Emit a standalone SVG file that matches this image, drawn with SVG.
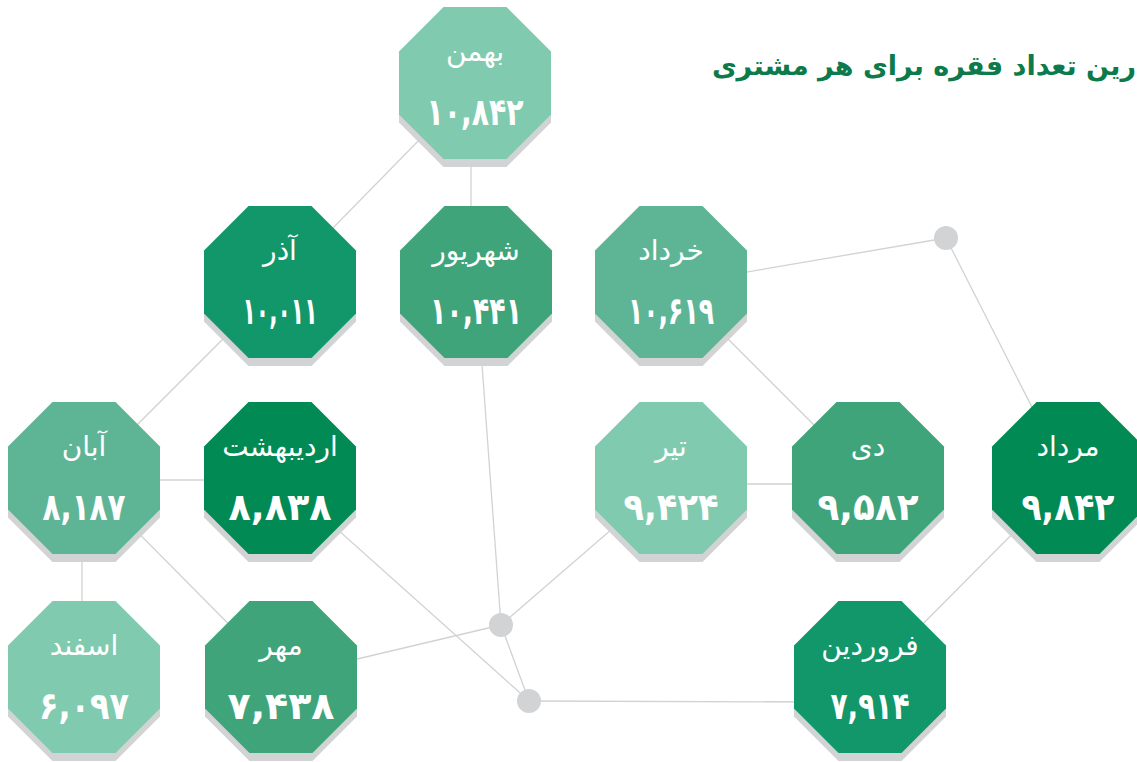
<svg xmlns="http://www.w3.org/2000/svg" xmlns:xlink="http://www.w3.org/1999/xlink" width="1137" height="762" viewBox="0 0 1137 762">
<style>
.lbl{font-family:"DejaVu Sans",sans-serif;font-size:28px;fill:#fff;text-anchor:middle}
.num{font-family:"DejaVu Sans",sans-serif;font-size:38px;font-weight:bold;fill:#fff;text-anchor:middle}
.title{font-family:"DejaVu Sans",sans-serif;font-size:27px;font-weight:bold;fill:#0C7A4A}
.conn line{stroke:#D2D2D2;stroke-width:1.3}
.dot{fill:#D1D3D4}
.sh{fill:#D1D3D4}
.c1{fill:#80CBAF}.c2{fill:#5EB596}.c3{fill:#40A47B}.c4{fill:#12976A}.c5{fill:#018A54}
</style>
<defs>
<polygon id="oct" points="-31.5,-76 31.5,-76 76,-31.5 76,31.5 31.5,76 -31.5,76 -76,31.5 -76,-31.5"/>
</defs>
<rect width="1137" height="762" fill="#fff"/>
<text class="title" x="1136" y="75" direction="rtl" text-anchor="start">رین تعداد فقره برای هر مشتری</text>
<g class="conn">
<line x1="475" y1="83" x2="280" y2="282"/>
<line x1="471" y1="100" x2="471" y2="282"/>
<line x1="280" y1="282" x2="84" y2="478"/>
<line x1="84" y1="480" x2="280" y2="480"/>
<line x1="82" y1="478" x2="82" y2="677"/>
<line x1="84" y1="478" x2="281" y2="677"/>
<line x1="280" y1="478" x2="529" y2="701"/>
<line x1="281" y1="677" x2="501" y2="625"/>
<line x1="476" y1="282" x2="501" y2="625"/>
<line x1="671" y1="478" x2="501" y2="625"/>
<line x1="501" y1="625" x2="529" y2="701"/>
<line x1="529" y1="701" x2="830" y2="702"/>
<line x1="870" y1="677" x2="1068" y2="478"/>
<line x1="1068" y1="478" x2="946" y2="238"/>
<line x1="946" y1="238" x2="671" y2="285"/>
<line x1="671" y1="282" x2="867" y2="478"/>
<line x1="671" y1="484" x2="867" y2="484"/>
</g>
<g id="dots">
<circle class="dot" cx="946" cy="238" r="12"/>
<circle class="dot" cx="501" cy="625" r="12"/>
<circle class="dot" cx="529" cy="701" r="12"/>
</g>
<g id="n-bahman" transform="translate(475,83)"><use href="#oct" class="sh" y="8"/><use href="#oct" class="c1"/><text class="lbl" y="-22">بهمن</text><text class="num" y="42" textLength="97" lengthAdjust="spacingAndGlyphs">۱۰,۸۴۲</text></g>
<g id="n-azar" transform="translate(280,282)"><use href="#oct" class="sh" y="8"/><use href="#oct" class="c4"/><text class="lbl" y="-22">آذر</text><text class="num" y="42" textLength="75" lengthAdjust="spacingAndGlyphs">۱۰,۰۱۱</text></g>
<g id="n-shahrivar" transform="translate(476,282)"><use href="#oct" class="sh" y="8"/><use href="#oct" class="c3"/><text class="lbl" y="-22">شهریور</text><text class="num" y="42" textLength="92" lengthAdjust="spacingAndGlyphs">۱۰,۴۴۱</text></g>
<g id="n-khordad" transform="translate(671,282)"><use href="#oct" class="sh" y="8"/><use href="#oct" class="c2"/><text class="lbl" y="-22">خرداد</text><text class="num" y="42" textLength="86" lengthAdjust="spacingAndGlyphs">۱۰,۶۱۹</text></g>
<g id="n-aban" transform="translate(84,478)"><use href="#oct" class="sh" y="8"/><use href="#oct" class="c2"/><text class="lbl" y="-22">آبان</text><text class="num" y="42" textLength="83" lengthAdjust="spacingAndGlyphs">۸,۱۸۷</text></g>
<g id="n-ordibehesht" transform="translate(280,478)"><use href="#oct" class="sh" y="8"/><use href="#oct" class="c5"/><text class="lbl" y="-22">اردیبهشت</text><text class="num" y="42" textLength="103" lengthAdjust="spacingAndGlyphs">۸,۸۳۸</text></g>
<g id="n-tir" transform="translate(671,478)"><use href="#oct" class="sh" y="8"/><use href="#oct" class="c1"/><text class="lbl" y="-22">تیر</text><text class="num" y="42" textLength="95" lengthAdjust="spacingAndGlyphs">۹,۴۲۴</text></g>
<g id="n-dey" transform="translate(868,478)"><use href="#oct" class="sh" y="8"/><use href="#oct" class="c3"/><text class="lbl" y="-22">دی</text><text class="num" y="42" textLength="101" lengthAdjust="spacingAndGlyphs">۹,۵۸۲</text></g>
<g id="n-mordad" transform="translate(1068,478)"><use href="#oct" class="sh" y="8"/><use href="#oct" class="c5"/><text class="lbl" y="-22">مرداد</text><text class="num" y="42" textLength="93" lengthAdjust="spacingAndGlyphs">۹,۸۴۲</text></g>
<g id="n-esfand" transform="translate(84,677)"><use href="#oct" class="sh" y="8"/><use href="#oct" class="c1"/><text class="lbl" y="-22">اسفند</text><text class="num" y="42" textLength="90" lengthAdjust="spacingAndGlyphs">۶,۰۹۷</text></g>
<g id="n-mehr" transform="translate(281,677)"><use href="#oct" class="sh" y="8"/><use href="#oct" class="c3"/><text class="lbl" y="-22">مهر</text><text class="num" y="42" textLength="107" lengthAdjust="spacingAndGlyphs">۷,۴۳۸</text></g>
<g id="n-farvardin" transform="translate(870,677)"><use href="#oct" class="sh" y="8"/><use href="#oct" class="c4"/><text class="lbl" y="-22">فروردین</text><text class="num" y="42" textLength="79" lengthAdjust="spacingAndGlyphs">۷,۹۱۴</text></g>
</svg>
